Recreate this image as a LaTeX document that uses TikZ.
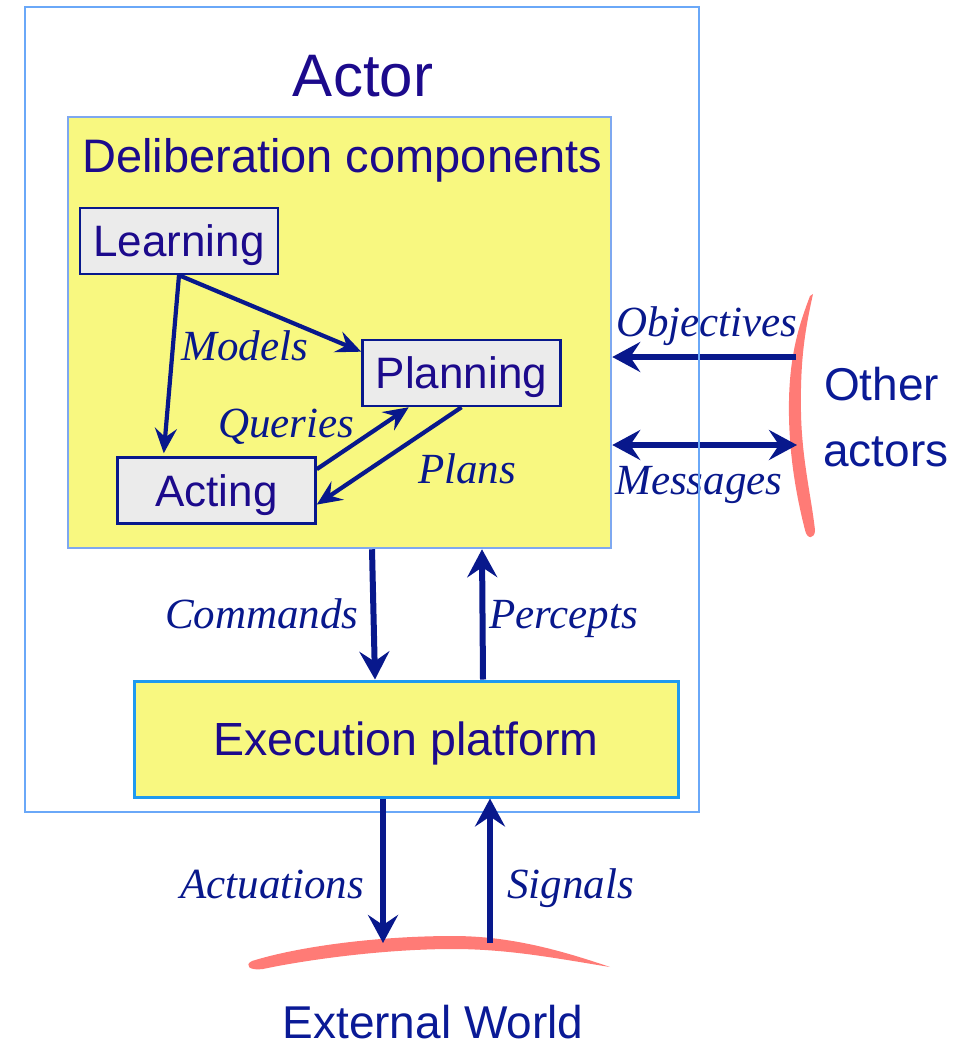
\documentclass[tikz,border=0pt]{standalone}
\usepackage{fontspec}
\setmainfont{Liberation Serif}
\setsansfont{Liberation Sans}
\usetikzlibrary{arrows.meta}

\definecolor{ink}{RGB}{28,10,140}
\definecolor{arrowblue}{RGB}{8,24,140}
\definecolor{worldblue}{RGB}{10,26,150}
\definecolor{frameblue}{RGB}{106,168,248}
\definecolor{delibframe}{RGB}{126,168,240}
\definecolor{execframe}{RGB}{30,154,240}
\definecolor{paleyellow}{RGB}{248,248,128}
\definecolor{boxgray}{RGB}{235,235,235}
\definecolor{brush}{RGB}{255,123,118}

\tikzset{
  headtip/.tip={Stealth[length=28pt,width=30pt,inset=10pt]},
  smalltip/.tip={Stealth[length=25pt,width=22pt,inset=9pt]}
}

\begin{document}
\begin{tikzpicture}[x=1pt,y=-1pt,
  comp/.style={draw=arrowblue, line width=2.5pt, fill=boxgray, text=ink,
    font=\sffamily\fontsize{44}{50}\selectfont, inner sep=0pt,
    text height=31.5pt, text depth=0pt, minimum width=198pt, minimum height=66pt},
  inner/.style={draw=arrowblue, line width=4.2pt, -smalltip},
  flow/.style={draw=arrowblue, line width=6pt, -headtip},
  twoway/.style={draw=arrowblue, line width=6pt, headtip-headtip},
  lbl/.style={text=arrowblue, font=\itshape\fontsize{43}{50}\selectfont,
    inner sep=0pt, anchor=base west},
  title/.style={text=ink, font=\sffamily\fontsize{#1}{#1}\selectfont, inner sep=0pt},
  world/.style={text=worldblue, font=\sffamily\fontsize{46}{50}\selectfont, inner sep=0pt}
]
\useasboundingbox (0,0) rectangle (974,1046);

% brush strokes standing for the other actors and the external world
\fill[brush] (813,294) .. controls (805,330) and (800,360) .. (801,413)
  .. controls (802,460) and (811,495) .. (815,530)
  .. controls (815,539) and (807,540) .. (805,530)
  .. controls (796,495) and (788,450) .. (789,400)
  .. controls (790,350) and (801,320) .. (810,296) -- cycle;
\fill[brush] (252,961) .. controls (300,946) and (380,936) .. (453,936)
  .. controls (510,936) and (560,950) .. (610,967)
  .. controls (560,959) and (510,949) .. (453,949)
  .. controls (380,949) and (300,961) .. (263,969)
  .. controls (249,971) and (244,965) .. (252,961) -- cycle;

% deliberation block
\node[draw=delibframe, line width=2.5pt, fill=paleyellow,
  minimum width=543pt, minimum height=431pt, inner sep=0pt] (delib) at (339.5,332.5) {};
\node[title=47, anchor=base west] (delibtitle) at (82,172) {Deliberation components};

\node[comp] (learning) at (179,241) {Learning};
\node[comp] (planning) at (461.5,373) {Planning};
\node[comp] (acting) at (216.5,490.5) {Acting};

\draw[inner] (learning.south) -- (planning.168);
\draw[inner] (learning.south) -- ([yshift=3pt]acting.147);
\draw[inner] (acting.12) -- (planning.213);
\draw[inner] (planning.south) -- (acting.-8);

\node[lbl] (models) at (181,360) {Models};
\node[lbl] (queries) at (218,437) {Queries};
\node[lbl] (plans) at (418,483) {Plans};

% exchanges with the other actors
\coordinate (objsrc) at (796,357);
\coordinate (msgend) at (797,445);
\draw[flow] (objsrc) -- (delib.east |- objsrc);
\draw[twoway] (delib.east |- msgend) -- (msgend);
\node[lbl] (objectives) at (616,336) {Objectives};
\node[lbl] (messages) at (615,494) {Messages};
\node[world, anchor=base west] (other) at (824,400) {Other};
\node[world, anchor=base west] (actors) at (823,466) {actors};

% execution platform
\node[draw=execframe, line width=3pt, fill=paleyellow,
  minimum width=544pt, minimum height=116pt, inner sep=0pt, text=ink,
  font=\sffamily\fontsize{46.5}{50}\selectfont, text height=33.3pt, text depth=0pt]
  (exec) at (406,739) {Execution platform};

\draw[flow] ([xshift=32.5pt]delib.south) -- ([xshift=-31pt]exec.north);
\draw[flow] ([xshift=77pt]exec.north) -- ([xshift=142.5pt]delib.south);
\node[lbl] (commands) at (165,628) {Commands};
\node[lbl] (percepts) at (489,628) {Percepts};

% the actor frame
\node[draw=frameblue, line width=2pt, minimum width=674pt, minimum height=805pt,
  inner sep=0pt] (actor) at (362,409.5) {};
\node[title=60, anchor=base] (actortitle) at (363,97) {Actor};

% interaction with the external world
\coordinate (wa) at (383,943);
\coordinate (ws) at (490,943);
\draw[flow] ([xshift=-23pt]exec.south) -- (wa);
\draw[flow] (ws) -- ([xshift=84pt]exec.south);
\node[lbl] (actuations) at (180,898) {Actuations};
\node[lbl] (signals) at (507,898) {Signals};
\node[world, anchor=base] (extworld) at (433,1038) {External World};
\end{tikzpicture}
\end{document}
